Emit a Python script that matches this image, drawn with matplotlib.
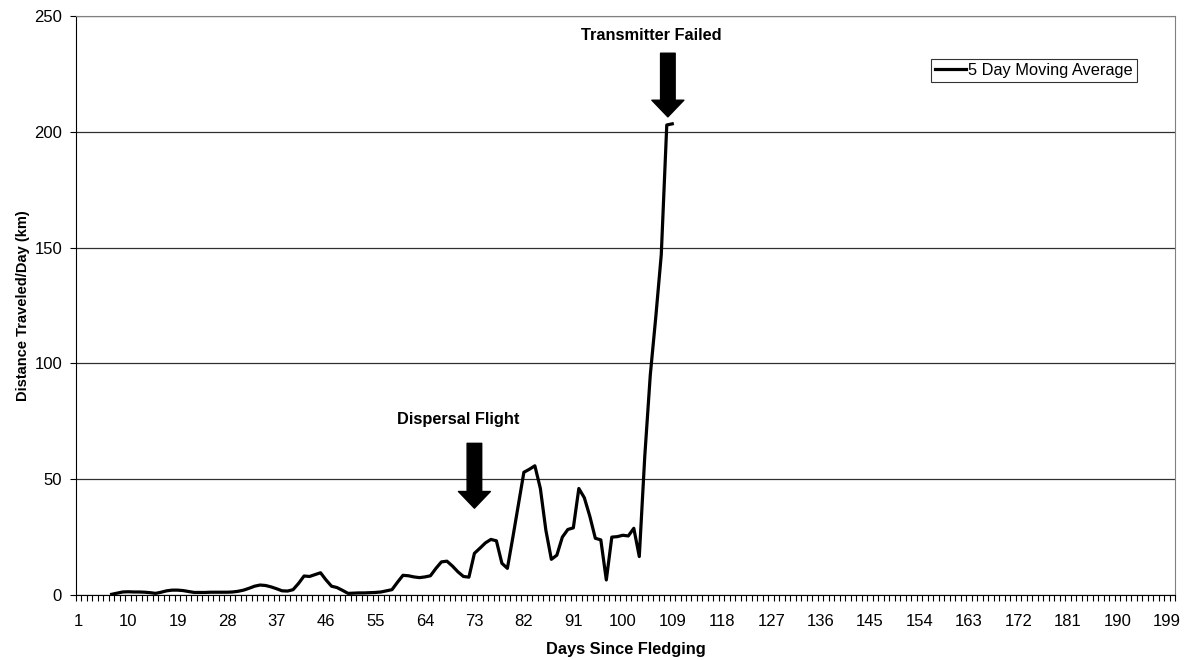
import matplotlib
matplotlib.use('Agg')
import matplotlib.pyplot as plt
import numpy as np

plt.rcParams['font.family'] = ['Liberation Sans', 'DejaVu Sans']

# Days since fledging (categories 1..200) and 5 day moving average (km/day)
days_all = list(range(1, 201))
days = list(range(7, 110))
moving_avg = [
    0.3, 0.8, 1.3, 1.4, 1.3, 1.3, 1.2, 1.0, 0.7, 1.2,   # 7-16
    1.8, 2.1, 2.1, 1.9, 1.5, 1.1, 1.1, 1.1, 1.2, 1.2,   # 17-26
    1.2, 1.2, 1.3, 1.6, 2.1, 2.9, 3.8, 4.3, 4.1, 3.5,   # 27-36
    2.7, 1.8, 1.7, 2.3, 5.0, 8.2, 8.0, 8.8, 9.6, 6.5,   # 37-46
    3.8, 3.2, 2.0, 0.7, 0.8, 0.9, 0.9, 1.0, 1.1, 1.3,   # 47-56
    1.8, 2.3, 5.5, 8.5, 8.3, 7.8, 7.5, 7.8, 8.3, 11.5,  # 57-66
    14.3, 14.6, 12.5, 10.0, 8.0, 7.7, 18.0, 20.2, 22.5, 24.0,  # 67-76
    23.4, 13.7, 11.5, 25.0, 39.0, 53.0, 54.3, 55.8, 46.0, 28.0,  # 77-86
    15.4, 17.2, 25.0, 28.3, 29.0, 46.0, 42.0, 34.0, 24.5, 23.8,  # 87-96
    6.5, 25.0, 25.2, 25.8, 25.5, 28.8, 16.6, 60.0, 95.0, 120.0,  # 97-106
    147.0, 203.0, 203.5,                                 # 107-109
]
tick_days = days_all[::9]
y_ticks = [0, 50, 100, 150, 200, 250]

# annotations: (label, day, arrow top, arrow tip, label y)
notes = [
    ('Dispersal Flight', 73, 65.5, 37.5, 72.5),
    ('Transmitter Failed', 108.2, 234, 206.5, 238.5),
]

fig = plt.figure(figsize=(11.87, 6.6), dpi=100)
ax = fig.add_axes([0.064, 0.0985, 0.926, 0.877])

ax.plot(days, moving_avg, color='black', linewidth=2.3, label='5 Day Moving Average')

ax.set_xlim(0.5, 200.5)
ax.set_ylim(0, 250)
ax.set_yticks(y_ticks)
ax.yaxis.grid(True, color='#303030', linewidth=0.9)
ax.set_axisbelow(True)

ax.set_xticks(tick_days)
ax.set_xticklabels([str(d) for d in tick_days])
ax.set_xticks(np.arange(0.5, 201, 1), minor=True)
ax.tick_params(axis='x', which='major', length=0, labelsize=12, pad=14)
ax.tick_params(axis='x', which='minor', length=4, width=0.8, direction='out')
ax.tick_params(axis='y', which='major', length=4, width=0.8, labelsize=12, pad=6)

for s in ['top', 'right']:
    ax.spines[s].set_color('#808080')
ax.spines['left'].set_color('black')
ax.spines['bottom'].set_color('black')

ax.set_xlabel('Days Since Fledging', fontsize=11.8, fontweight='bold', labelpad=9)
ax.set_ylabel('Distance Traveled/Day (km)', fontsize=10.5, fontweight='bold', labelpad=3)

for label, d, top, tip, ty in notes:
    ax.annotate('', xy=(d, tip), xytext=(d, top),
                arrowprops=dict(facecolor='black', edgecolor='black', width=10.5,
                                headwidth=23, headlength=12, shrink=0))
    ax.text(d - 3, ty, label, ha='center', va='bottom', fontsize=11.8, fontweight='bold')

leg = ax.legend(loc='upper right', bbox_to_anchor=(0.965, 0.926), fontsize=11.8,
                frameon=True, fancybox=False, handlelength=1.9, handletextpad=0.1,
                borderpad=0.25, borderaxespad=0)
leg.get_frame().set_edgecolor('black')
leg.get_frame().set_linewidth(0.8)

plt.savefig('out.png', dpi=100)
